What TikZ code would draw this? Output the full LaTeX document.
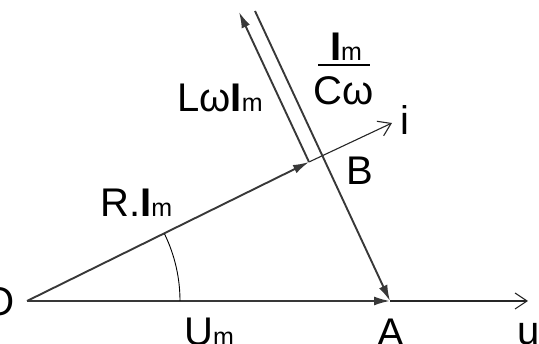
\documentclass[tikz,border=0pt]{standalone}
\usepackage{fontspec}
\setmainfont{Liberation Sans}
\usetikzlibrary{arrows, arrows.meta, positioning}

\newcommand{\ampl}{\textbf{I}{\fontsize{25}{27}\selectfont m}}

\begin{document}
\begin{tikzpicture}[x=1pt, y=1pt, font=\fontsize{40}{44}\selectfont]
        \tikzstyle{vec} = [draw, -{Latex[length=16pt,width=9pt]}, line width=1.9pt, color=black!78]
        \tikzstyle{axis} = [draw, -{Straight Barb[length=12pt,width=16pt]}, line width=1.1pt, color=black!85]
        \tikzstyle{lbl} = [inner sep=0pt, anchor=base west]

        \useasboundingbox (0,0) rectangle (539,344);

        \coordinate (O) at (27,43);
        \coordinate (A) at (390,43);
        \coordinate (u) at (528,43);
        \coordinate (B) at (309,182);
        \coordinate (i) at (392,221);
        \coordinate (L) at (239,332);
        \coordinate (C) at (255,333);

        \path [axis] (A) -- (u);
        \path [axis] (B) -- (i);
        \path [vec] (O) -- (A);
        \path [vec] (O) -- (B);
        \path [vec] (B) -- (L);
        \path [vec] (C) -- (A);
        \draw [line width=0.9pt] (O) ++(153,0) arc [start angle=0, end angle=26, radius=153];

        \node [inner sep=0pt, anchor=base] (o) at (-1,28) {O};
        \node [lbl] (ri) at (100,127) {R.\ampl};
        \node [lbl] (li) at (177,232) {Lω\ampl};
        \node [lbl] (b) at (346,159) {B};
        \node [lbl] (il) at (400,209) {i};
        \node [lbl] (um) at (184,-2) {U{\fontsize{25}{27}\selectfont m}};
        \node [inner sep=0pt, anchor=base] (a) at (391,-3) {A};
        \node [lbl] (ul) at (517,-1) {u};
        \node [inner sep=0pt, anchor=base] (num) at (346,283) {\ampl};
        \draw [line width=1.4pt] (318,279) -- (370,279);
        \node [inner sep=0pt, anchor=base] (den) at (344,239) {Cω};
    \end{tikzpicture}
\end{document}
